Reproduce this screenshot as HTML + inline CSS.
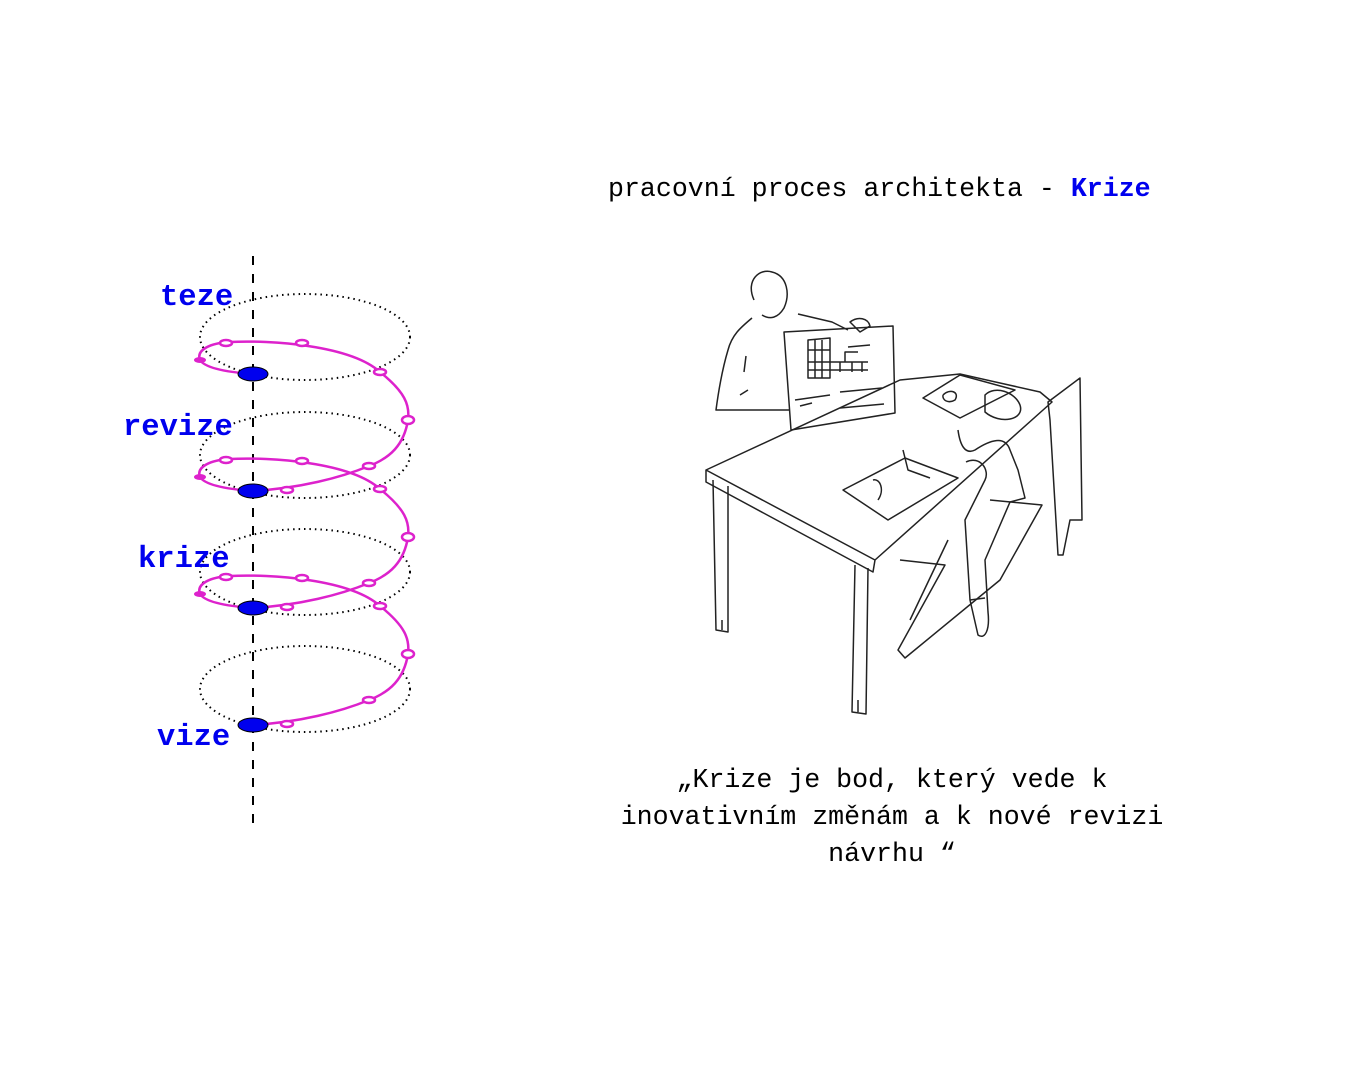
<!DOCTYPE html>
<html><head><meta charset="utf-8"><style>
body{margin:0;width:1350px;height:1080px;background:#fff;position:relative;overflow:hidden;font-family:"Liberation Mono",monospace}
.t{position:absolute;font-size:26.6px;color:#000;white-space:nowrap}
.l{position:absolute;font-size:30.5px;font-weight:bold;color:#0000ee;white-space:nowrap}
</style></head><body>
<svg width="1350" height="1080" style="position:absolute;left:0;top:0">
<line x1="253" y1="256" x2="253" y2="825" stroke="#000" stroke-width="2" stroke-dasharray="9,9"/>
<g fill="none" stroke="#000" stroke-width="2" stroke-dasharray="1.5,4">
<ellipse cx="305" cy="337" rx="105" ry="43"/>
<ellipse cx="305" cy="455" rx="105" ry="43"/>
<ellipse cx="305" cy="572" rx="105" ry="43"/>
<ellipse cx="305" cy="689" rx="105" ry="43"/>
</g>
<g fill="none" stroke="#dd22cc" stroke-width="2.5">
<path d="M253 374 C225 372 205 368 200 360 C196 350 210 343 230 342 C270 340 350 345 380 372 C405 392 410 405 408 420 C404 445 390 458 369 466 C340 478 300 488 253 491"/>
<path d="M253 491 C225 489 205 485 200 477 C196 467 210 460 230 459 C270 457 350 462 380 489 C405 509 410 522 408 537 C404 562 390 575 369 583 C340 595 300 605 253 608"/>
<path d="M253 608 C225 606 205 602 200 594 C196 584 210 577 230 576 C270 574 350 579 380 606 C405 626 410 639 408 654 C404 679 390 692 369 700 C340 712 300 722 253 725"/>
</g>
<g fill="#fff" stroke="#dd22cc" stroke-width="2.5">
<ellipse cx="226" cy="343" rx="6" ry="3"/><ellipse cx="302" cy="343" rx="6" ry="3"/><ellipse cx="380" cy="372" rx="6" ry="3"/><ellipse cx="408" cy="420" rx="6" ry="4"/><ellipse cx="369" cy="466" rx="6" ry="3"/><ellipse cx="287" cy="490" rx="6" ry="3"/>
<ellipse cx="226" cy="460" rx="6" ry="3"/><ellipse cx="302" cy="461" rx="6" ry="3"/><ellipse cx="380" cy="489" rx="6" ry="3"/><ellipse cx="408" cy="537" rx="6" ry="4"/><ellipse cx="369" cy="583" rx="6" ry="3"/><ellipse cx="287" cy="607" rx="6" ry="3"/>
<ellipse cx="226" cy="577" rx="6" ry="3"/><ellipse cx="302" cy="578" rx="6" ry="3"/><ellipse cx="380" cy="606" rx="6" ry="3"/><ellipse cx="408" cy="654" rx="6" ry="4"/><ellipse cx="369" cy="700" rx="6" ry="3"/><ellipse cx="287" cy="724" rx="6" ry="3"/>
</g>
<g fill="#dd22cc"><ellipse cx="200" cy="360" rx="6" ry="3"/><ellipse cx="200" cy="477" rx="6" ry="3"/><ellipse cx="200" cy="594" rx="6" ry="3"/></g>
<g fill="#0000ee" stroke="#000" stroke-width="1">
<ellipse cx="253" cy="374" rx="15" ry="7"/><ellipse cx="253" cy="491" rx="15" ry="7"/><ellipse cx="253" cy="608" rx="15" ry="7"/><ellipse cx="253" cy="725" rx="15" ry="7"/>
</g>
<g fill="none" stroke="#222" stroke-width="1.5" stroke-linejoin="round">
<path d="M754 300 C745 280 760 268 772 272 C788 276 790 295 784 308 C778 318 770 320 762 315"/>
<path d="M752 318 C740 328 732 335 728 350 C722 370 718 395 716 410 L790 410"/>
<path d="M746 356 L744 372 M740 395 L748 390"/>
<path d="M798 314 L832 322 L848 330"/>
<path d="M850 322 C858 316 868 318 870 326 L860 332 Z"/>
<path d="M784 332 L893 326 L895 413 L791 430 Z"/>
<path d="M808 340 L830 338 L830 378 L808 378 Z M815 340 L815 378 M822 340 L822 378 M808 350 L830 350 M808 362 L868 362 M808 370 L868 370 M845 362 L845 352 L858 352 M840 362 L840 372 M852 362 L852 372 M862 362 L862 372"/>
<path d="M848 347 L870 345 M840 392 L882 388 M840 408 L884 404"/>
<path d="M795 400 L830 395 M800 406 L812 403"/>
<path d="M706 470 L900 380 L960 374 L1040 392 L1052 402 L875 560 Z M706 470 L706 482 L873 572 L875 560"/>
<path d="M713 480 L716 630 L728 632 L728 486 M722 630 L722 620"/>
<path d="M855 565 L852 712 L866 714 L868 568 M858 712 L858 700"/>
<path d="M923 398 L960 375 L1015 390 L960 418 Z"/>
<path d="M943 395 C950 388 960 392 955 400 C948 404 942 400 943 395"/>
<path d="M843 490 L905 458 L958 478 L888 520 Z"/>
<path d="M873 480 C880 478 885 490 878 500 M903 450 L908 470 L930 478"/>
<path d="M985 395 C995 385 1015 392 1020 405 C1025 420 1000 425 985 412 Z"/>
<path d="M958 430 C960 445 965 455 975 450 C990 440 1005 435 1010 450 L1018 470 L1025 498 L1010 502"/>
<path d="M966 462 C980 455 990 470 985 480 L965 520 L970 600 L978 635 C985 640 990 630 988 612 L985 560 L1010 502"/>
<path d="M970 600 L985 598"/>
<path d="M1048 402 L1080 378 L1082 520 L1070 520 L1063 555 L1058 555 L1050 420 Z"/>
<path d="M990 500 L1042 505 L1000 580 L905 658 L898 650 L945 565 L900 560"/>
<path d="M948 540 L910 620"/>
</g>
</svg>
<div class="t" style="left:608px;top:174px">pracovní proces architekta - <span style="color:#0000ee;font-weight:bold">Krize</span></div>
<div class="t" style="left:600px;top:762px;width:584px;text-align:center;line-height:37px">„Krize je bod, který vede k<br>inovativním změnám a k nové revizi<br>návrhu “</div>
<div class="l" style="left:160px;top:281px">teze</div>
<div class="l" style="left:123px;top:411px">revize</div>
<div class="l" style="left:138px;top:543px">krize</div>
<div class="l" style="left:157px;top:721px">vize</div>
</body></html>
